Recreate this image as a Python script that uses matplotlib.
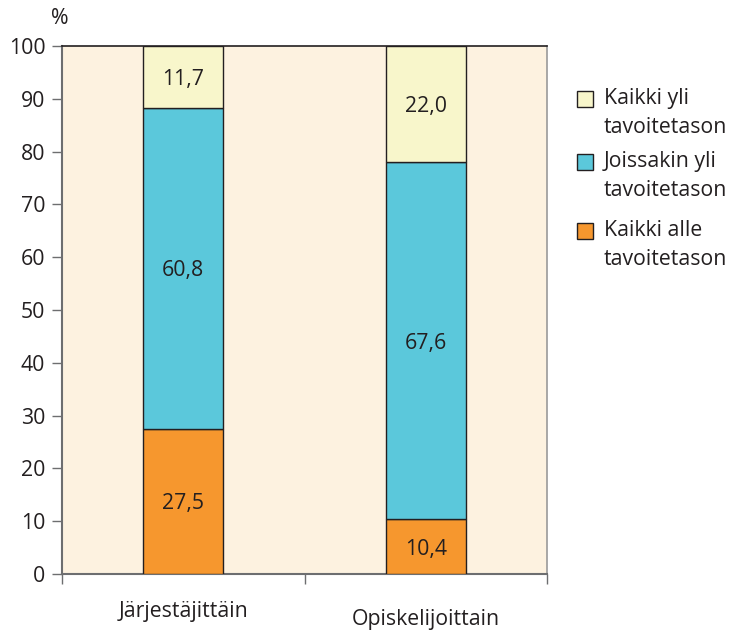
import matplotlib
matplotlib.use("Agg")
import matplotlib.pyplot as plt
import matplotlib.transforms as mtransforms
from matplotlib.patches import Rectangle
import numpy as np

plt.rcParams['font.family'] = ['Open Sans', 'DejaVu Sans']

categories = ["Järjestäjittäin", "Opiskelijoittain"]
series_names = ["Kaikki alle\ntavoitetason", "Joissakin yli\ntavoitetason", "Kaikki yli\ntavoitetason"]
values = [
    [27.5, 10.4],   # Kaikki alle tavoitetason
    [60.8, 67.6],   # Joissakin yli tavoitetason
    [11.7, 22.0],   # Kaikki yli tavoitetason
]
colors = ["#F6972E", "#5BC8DB", "#F8F6CB"]
yticks = [0, 10, 20, 30, 40, 50, 60, 70, 80, 90, 100]

txt = "#231F20"
fs = 15.3

fig = plt.figure(figsize=(7.3, 6.3), dpi=100)
ax = fig.add_axes([62/730, 1-574/630, (547-62)/730, (574-46)/630])
ax.set_facecolor("#FDF2E0")

x = np.arange(len(categories))
bottom = np.zeros(len(categories))
for vals, col in zip(values, colors):
    vals = np.array(vals)
    ax.bar(x, vals, width=0.33, bottom=bottom, color=col, edgecolor="#231F20", linewidth=1.0, zorder=3)
    for xi, b, v in zip(x, bottom, vals):
        ax.text(xi, b + v/2, f"{v:.1f}".replace(".", ","), ha="center", va="center_baseline",
                fontsize=fs, color=txt, zorder=4)
    bottom += vals

ax.set_xlim(-0.5, 1.5)
ax.set_ylim(0, 100)
ax.set_yticks(yticks)
ax.set_yticklabels([str(t) for t in yticks], fontsize=fs, color=txt)
ax.tick_params(axis='y', length=7, width=1, color="#6D6E70", pad=5)
ax.set_xticks([-0.5, 0.5, 1.5])
ax.set_xticklabels([])
ax.tick_params(axis='x', length=7.5, width=1, color="#6D6E70")

for s in ["left", "bottom"]:
    ax.spines[s].set_color("#6D6E70")
    ax.spines[s].set_linewidth(1.5)
ax.spines["top"].set_color("#231F20")
ax.spines["top"].set_linewidth(1.2)
ax.spines["right"].set_color("#9A9A9A")
ax.spines["right"].set_linewidth(1.2)

trans = mtransforms.blended_transform_factory(ax.transData, fig.transFigure)
label_y = [612, 620]
for xi, cat, ly in zip(x, categories, label_y):
    ax.text(xi, 1-ly/630, cat, transform=trans,
            ha="center", va="center", fontsize=fs, color=txt)

fig.text(60/730, 1-19/630, "%", ha="center", va="center", fontsize=fs, color=txt)

# legend (top entry first)
leg_y = [99, 162, 231]
for name, col, ly in zip(series_names[::-1], colors[::-1], leg_y):
    fig.patches.append(Rectangle((577/730, 1-(ly+8)/630), 16/730, 16/630,
                                 transform=fig.transFigure, facecolor=col,
                                 edgecolor="#231F20", linewidth=1.0))
    fig.text(604/730, 1-(ly-11)/630, name, ha="left", va="top", fontsize=fs,
             color=txt, linespacing=1.5)

fig.savefig("out.png", dpi=100)
